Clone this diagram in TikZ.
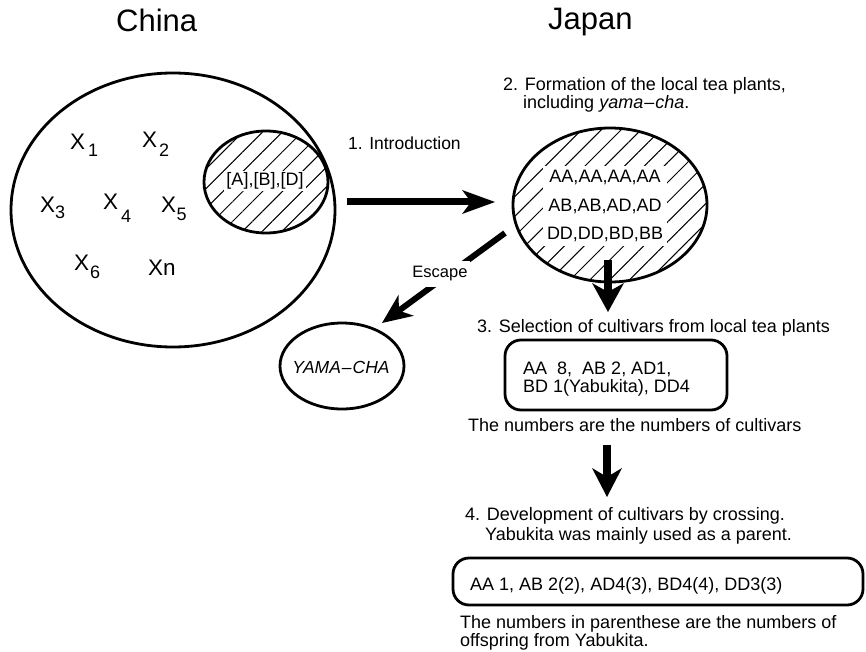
\documentclass[tikz,border=0pt]{standalone}
\usepackage{fontspec}
\setmainfont{Liberation Sans}
\usetikzlibrary{arrows.meta,shapes.geometric,patterns.meta}
\newcommand\xsub[3]{X\kern#1pt\raisebox{-#2pt}{\fontsize{18}{18}\selectfont #3}}
\begin{document}
\begin{tikzpicture}[x=1pt,y=-1pt,
  txt/.style={anchor=base west, inner sep=0pt, font=\fontsize{18}{20}\selectfont},
  title/.style={anchor=base west, inner sep=0pt, font=\fontsize{31}{34}\selectfont},
  xlab/.style={anchor=base west, inner sep=0pt, font=\fontsize{22.5}{24}\selectfont},
  ring/.style={draw, ellipse, line width=2.8pt, inner sep=0pt},
  hatch/.style={pattern={Lines[angle=45,distance=14pt,line width=1pt]}},
  cbox/.style={draw, rounded corners=16pt, line width=2.8pt, inner sep=0pt},
  fatarrow/.style n args={3}{line width=#1, -{Stealth[length=#2,width=#3,inset=9pt,line width=0pt]}},
]
\useasboundingbox (0,0) rectangle (866,652);

% titles
\node[title] (titleC) at (116,32) {China};
\node[title] (titleJ) at (548,30) {Japan};

% China
\node[ring, minimum width=324pt, minimum height=274pt] (china) at (173,210) {};
\node[ring, hatch, minimum width=124pt, minimum height=102pt] (chinasub) at (266,182) {};
\node[fill=white, inner sep=2pt, font=\fontsize{18}{19}\selectfont] (abd) at (265,181) {[A],[B],[D]};

\node[xlab] (x1) at (70,150) {\xsub{3}{7}{1}};
\node[xlab] (x2) at (142,148) {\xsub{2}{9}{2}};
\node[xlab] (x3) at (40,212) {\xsub{0}{6}{3}};
\node[xlab] (x4) at (103,210) {\xsub{3}{13}{4}};
\node[xlab] (x5) at (161,212) {\xsub{0.5}{8}{5}};
\node[xlab] (x6) at (74,270) {\xsub{1}{8}{6}};
\node[xlab] (xn) at (148,275) {Xn};

% Japan
\node[ring, hatch, minimum width=194pt, minimum height=154pt] (japan) at (610,205) {};
\node[fill=white, inner sep=4pt, align=center, font=\fontsize{18}{28.5}\selectfont] (jtext) at (605,206) {AA,AA,AA,AA\\AB,AB,AD,AD\\DD,DD,BD,BB};

\node[txt] (form1) at (503,91) {2. Formation of the local tea plants,};
\node[txt] (form2) at (523,109) {including \textit{yama{\kern1pt}--{\kern1pt}cha}.};

% introduction arrow
\coordinate (introS) at (347,202);
\coordinate (introE) at (495,202);
\draw[fatarrow={7pt}{33pt}{24pt}] (introS) -- (introE);
\node[txt, font=\fontsize{17.5}{20}\selectfont] (intro) at (348,150) {1. Introduction};

% escape arrow
\coordinate (escS) at (505,233);
\coordinate (escE) at (382,323);
\draw[fatarrow={6pt}{30pt}{26pt}] (escS) -- (escE);
\node[fill=white, inner xsep=2pt, inner ysep=6pt, font=\fontsize{16.5}{18}\selectfont] (esc) at (440,274) {Escape};

\node[ring, minimum width=124pt, minimum height=86pt] (yama) at (342,366) {};
\node[font=\fontsize{17.5}{19}\selectfont\itshape, inner sep=0pt] (yamat) at (341,367) {YAMA{\kern1pt}--{\kern1pt}CHA};

% down arrow 1
\coordinate (d1S) at (608,260);
\coordinate (d1E) at (608,312);
\draw[fatarrow={8pt}{29pt}{32pt}] (d1S) -- (d1E);

\node[txt] (sel) at (477,332) {3. Selection of cultivars from local tea plants};
\node[cbox, minimum width=222pt, minimum height=70pt] (box3) at (616,375) {};
\node[txt] (b3a) at (523,374) {AA\ \ 8,\ \ AB 2, AD1,};
\node[txt] (b3b) at (523,392) {BD 1(Yabukita), DD4};
\node[txt] (note3) at (468,431) {The numbers are the numbers of cultivars};

% down arrow 2
\coordinate (d2S) at (607,445);
\coordinate (d2E) at (607,497);
\draw[fatarrow={8pt}{29pt}{30pt}] (d2S) -- (d2E);

\node[txt] (dev1) at (465,520) {4. Development of cultivars by crossing.};
\node[txt] (dev2) at (485,540) {Yabukita was mainly used as a parent.};
\node[cbox, minimum width=410pt, minimum height=47pt] (box4) at (658,581.5) {};
\node[txt] (b4) at (470,590) {AA 1, AB 2(2), AD4(3), BD4(4), DD3(3)};
\node[txt] (note4a) at (460,628) {The numbers in parenthese are the numbers of};
\node[txt] (note4b) at (460,646) {offspring from Yabukita.};
\end{tikzpicture}
\end{document}
